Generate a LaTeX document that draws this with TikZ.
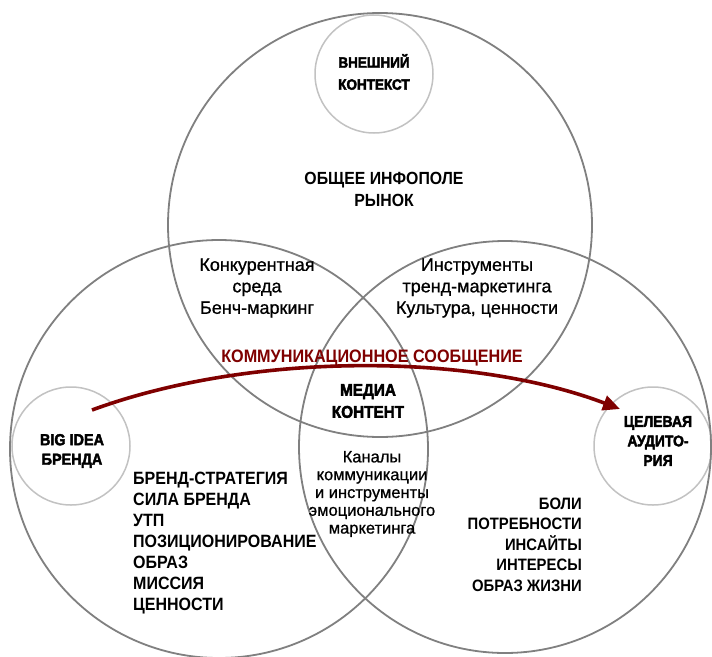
\documentclass[tikz,border=0pt]{standalone}
\usepackage{fontspec}
\setmainfont{Liberation Sans}[FakeStretch=0.9]
\newfontfamily\heavyfont{Liberation Sans Bold}[FakeStretch=0.9,FakeBold=2.5]
\newfontfamily\medfont{Liberation Sans}[FakeBold=0.8]
\usepackage{tikz}
\usetikzlibrary{arrows.meta}
\usepackage{xcolor}
\definecolor{RingGray}{HTML}{808080}
\definecolor{SoftGray}{HTML}{C2C2C2}
\definecolor{MsgRed}{HTML}{7F0000}

\begin{document}
\begin{tikzpicture}[x=1pt,y=-1pt,
  bigring/.style={circle,draw=RingGray,line width=1.8pt,inner sep=0pt},
  smallring/.style={circle,draw=SoftGray,line width=1.5pt,inner sep=0pt,minimum size=118pt},
  heavy/.style={align=center,inner sep=0pt,font=\heavyfont\fontsize{15.5}{19.5}\selectfont},
  caps/.style={align=center,inner sep=0pt,font=\bfseries\fontsize{17.6}{22}\selectfont},
  plain/.style={align=center,inner sep=0pt,font=\medfont\fontsize{18}{21.5}\selectfont},
  item/.style={inner sep=0pt,font=\bfseries\fontsize{17.8}{21}\selectfont}]
  \fill[white] (0,0) rectangle (712,656);
  \useasboundingbox (0,0) rectangle (712,656);
  % small rings
  \node[smallring] (context) at (374,74) {};
  \node[smallring] (bigidea) at (71,446) {};
  \node[smallring] (target) at (653,446) {};
  % big rings
  \node[bigring,minimum size=424pt] (market) at (380,225) {};
  \node[bigring,minimum size=418pt] (brand) at (219,449) {};
  \node[bigring,minimum size=412pt] (people) at (505,447) {};

  \node[heavy,font=\heavyfont\fontsize{15}{22}\selectfont] (contextlabel) at (374,72) {ВНЕШНИЙ\\КОНТЕКСТ};
  \node[heavy,font=\heavyfont\fontsize{16}{19.5}\selectfont] (ideatext) at (72,451) {BIG IDEA\\БРЕНДА};
  \node[heavy] (targettext) at (658,441) {ЦЕЛЕВАЯ\\АУДИТО-\\РИЯ};
  \node[heavy,font=\heavyfont\fontsize{17}{22}\selectfont] (media) at (368,401) {МЕДИА\\КОНТЕНТ};

  \node[caps] (field) at (384,189) {ОБЩЕЕ ИНФОПОЛЕ\\РЫНОК};
  \node[plain] (rivals) at (257,288) {Конкурентная\\среда\\Бенч-маркинг};
  \node[plain] (trends) at (477,288) {Инструменты\\тренд-маркетинга\\Культура, ценности};
  \node[plain,font=\medfont\fontsize{16.5}{17.8}\selectfont] (channels) at (372,494)
    {Каналы\\коммуникации\\и инструменты\\эмоционального\\маркетинга};
  \node[caps,font=\bfseries\fontsize{18}{21}\selectfont,text=MsgRed] (message) at (372,358)
    {КОММУНИКАЦИОННОЕ СООБЩЕНИЕ};

  % brand list / audience list
  \foreach \t [count=\i from 0] in {БРЕНД-СТРАТЕГИЯ,СИЛА БРЕНДА,УТП,ПОЗИЦИОНИРОВАНИЕ,ОБРАЗ,МИССИЯ,ЦЕННОСТИ}
    \node[item,anchor=base west] (brand\i) at (133,484+21.1*\i) {\t};
  \foreach \t [count=\i from 0] in {БОЛИ,ПОТРЕБНОСТИ,ИНСАЙТЫ,ИНТЕРЕСЫ,ОБРАЗ ЖИЗНИ}
    \node[item,font=\bfseries\fontsize{16.5}{20}\selectfont,anchor=base east] (need\i) at (582,509+20.5*\i) {\t};

  \coordinate (msgstart) at (92,410);
  \coordinate (msgend) at (620,409);
  \draw[MsgRed,line width=3.6pt,-{Triangle[length=17pt,width=15pt]}]
    (msgstart) .. controls (250,352) and (470,352) .. (msgend);
\end{tikzpicture}
\end{document}
